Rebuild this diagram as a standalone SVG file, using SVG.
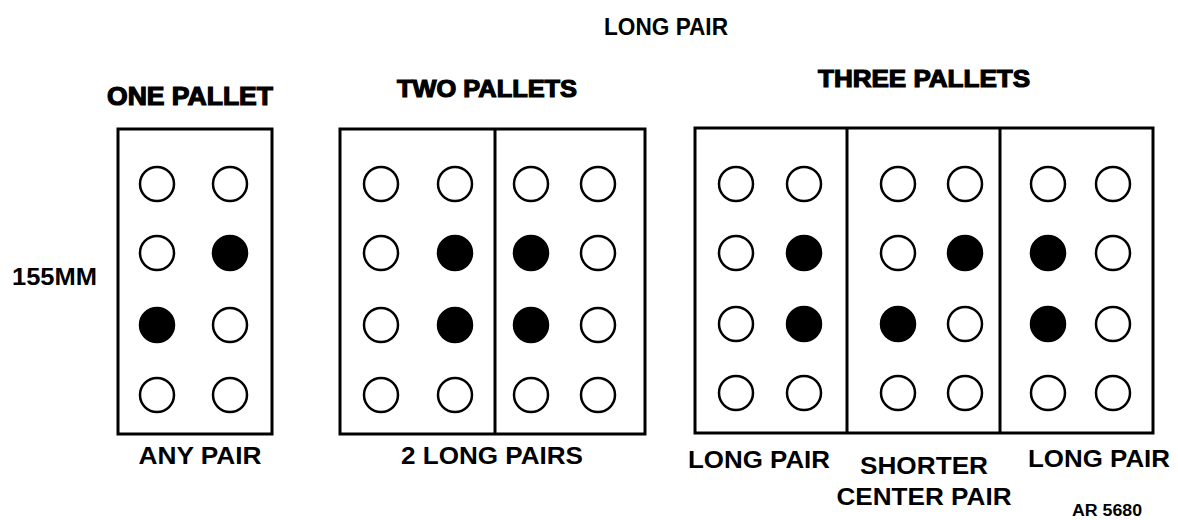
<svg xmlns="http://www.w3.org/2000/svg" width="1178" height="520" viewBox="0 0 1178 520">
<style>
.lbl{font-family:"Liberation Sans",Arial,sans-serif;font-weight:bold;fill:#000;}
.hd{font-family:"Liberation Sans",Arial,sans-serif;font-weight:bold;fill:#000;stroke:#000;stroke-width:1.2;}
.box{fill:none;stroke:#000;stroke-width:3;}
.o{fill:#fff;stroke:#000;stroke-width:2.5;}
.f{fill:#000;stroke:#000;stroke-width:2.5;}
</style>
<rect width="1178" height="520" fill="#fff"/>
<text class="lbl" x="666" y="35" font-size="23" text-anchor="middle" textLength="124" lengthAdjust="spacingAndGlyphs">LONG PAIR</text>
<text class="lbl" x="12" y="285" font-size="24" textLength="85" lengthAdjust="spacingAndGlyphs">155MM</text>

<g id="one-pallet">
<text class="hd" x="190" y="105" font-size="25" text-anchor="middle" textLength="166" lengthAdjust="spacingAndGlyphs">ONE PALLET</text>
<rect class="box" x="118" y="129" width="154" height="305"/>
<circle class="o" cx="157" cy="184" r="17"/><circle class="o" cx="230" cy="184" r="17"/>
<circle class="o" cx="157" cy="253" r="17"/><circle class="f" cx="230" cy="253" r="17"/>
<circle class="f" cx="157" cy="325" r="17"/><circle class="o" cx="230" cy="325" r="17"/>
<circle class="o" cx="157" cy="395" r="17"/><circle class="o" cx="230" cy="395" r="17"/>
<text class="lbl" x="200" y="464" font-size="24" text-anchor="middle" textLength="123" lengthAdjust="spacingAndGlyphs">ANY PAIR</text>
</g>

<g id="two-pallets">
<text class="hd" x="487" y="97" font-size="24" text-anchor="middle" textLength="180" lengthAdjust="spacingAndGlyphs">TWO PALLETS</text>
<rect class="box" x="340" y="129" width="305" height="305"/>
<line class="box" x1="495" y1="129" x2="495" y2="434"/>
<circle class="o" cx="381" cy="184" r="17"/><circle class="o" cx="455" cy="184" r="17"/><circle class="o" cx="531" cy="184" r="17"/><circle class="o" cx="598" cy="184" r="17"/>
<circle class="o" cx="381" cy="253" r="17"/><circle class="f" cx="455" cy="253" r="17"/><circle class="f" cx="531" cy="253" r="17"/><circle class="o" cx="598" cy="253" r="17"/>
<circle class="o" cx="381" cy="325" r="17"/><circle class="f" cx="455" cy="325" r="17"/><circle class="f" cx="531" cy="325" r="17"/><circle class="o" cx="598" cy="325" r="17"/>
<circle class="o" cx="381" cy="395" r="17"/><circle class="o" cx="455" cy="395" r="17"/><circle class="o" cx="531" cy="395" r="17"/><circle class="o" cx="598" cy="395" r="17"/>
<text class="lbl" x="492" y="464" font-size="24" text-anchor="middle" textLength="182" lengthAdjust="spacingAndGlyphs">2 LONG PAIRS</text>
</g>

<g id="three-pallets">
<text class="hd" x="924" y="87" font-size="24" text-anchor="middle" textLength="212" lengthAdjust="spacingAndGlyphs">THREE PALLETS</text>
<rect class="box" x="695" y="128" width="458" height="305"/>
<line class="box" x1="847" y1="128" x2="847" y2="433"/>
<line class="box" x1="1000" y1="128" x2="1000" y2="433"/>
<circle class="o" cx="736" cy="184" r="17"/><circle class="o" cx="804" cy="184" r="17"/><circle class="o" cx="898" cy="184" r="17"/><circle class="o" cx="965" cy="184" r="17"/><circle class="o" cx="1048" cy="184" r="17"/><circle class="o" cx="1113" cy="184" r="17"/>
<circle class="o" cx="736" cy="253" r="17"/><circle class="f" cx="804" cy="253" r="17"/><circle class="o" cx="898" cy="253" r="17"/><circle class="f" cx="965" cy="253" r="17"/><circle class="f" cx="1048" cy="253" r="17"/><circle class="o" cx="1113" cy="253" r="17"/>
<circle class="o" cx="736" cy="324" r="17"/><circle class="f" cx="804" cy="324" r="17"/><circle class="f" cx="898" cy="324" r="17"/><circle class="o" cx="965" cy="324" r="17"/><circle class="f" cx="1048" cy="324" r="17"/><circle class="o" cx="1113" cy="324" r="17"/>
<circle class="o" cx="736" cy="393" r="17"/><circle class="o" cx="804" cy="393" r="17"/><circle class="o" cx="898" cy="393" r="17"/><circle class="o" cx="965" cy="393" r="17"/><circle class="o" cx="1048" cy="393" r="17"/><circle class="o" cx="1113" cy="393" r="17"/>
<text class="lbl" x="759" y="468" font-size="24" text-anchor="middle" textLength="142" lengthAdjust="spacingAndGlyphs">LONG PAIR</text>
<text class="lbl" x="924" y="474" font-size="24" text-anchor="middle" textLength="128" lengthAdjust="spacingAndGlyphs">SHORTER</text>
<text class="lbl" x="924" y="505" font-size="24" text-anchor="middle" textLength="175" lengthAdjust="spacingAndGlyphs">CENTER PAIR</text>
<text class="lbl" x="1099" y="467" font-size="24" text-anchor="middle" textLength="142" lengthAdjust="spacingAndGlyphs">LONG PAIR</text>
</g>
<text class="lbl" x="1107" y="516" font-size="16" text-anchor="middle" textLength="70" lengthAdjust="spacingAndGlyphs">AR 5680</text>
</svg>
